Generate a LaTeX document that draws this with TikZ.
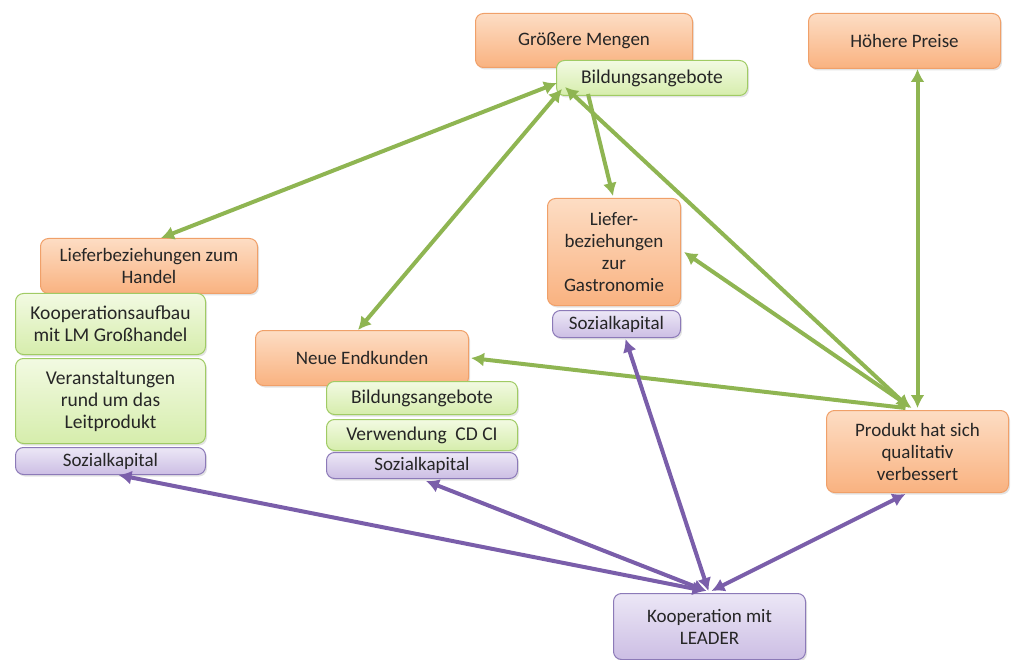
\documentclass[tikz,border=0pt]{standalone}
\usepackage{fontspec}
\setmainfont{Carlito}
\usetikzlibrary{arrows.meta,shadows,calc}

\definecolor{txt}{RGB}{38,38,38}
\definecolor{orTop}{RGB}{253,221,196}
\definecolor{orBot}{RGB}{249,178,128}
\definecolor{orLine}{RGB}{240,160,105}
\definecolor{grTop}{RGB}{242,250,226}
\definecolor{grBot}{RGB}{214,237,172}
\definecolor{grLine}{RGB}{160,203,100}
\definecolor{puTop}{RGB}{236,231,246}
\definecolor{puBot}{RGB}{204,190,228}
\definecolor{puLine}{RGB}{140,122,184}
\definecolor{grArrow}{RGB}{143,181,82}
\definecolor{puArrow}{RGB}{122,94,170}

\tikzset{
  box/.style={rounded corners=8pt, line width=1pt, inner sep=0pt,
    align=center, anchor=north west, text=txt,
    font=\fontsize{19}{22}\selectfont,
    drop shadow={shadow xshift=1.5pt, shadow yshift=-2pt, opacity=0.22}},
  obox/.style={box, draw=orLine, top color=orTop, bottom color=orBot},
  gbox/.style={box, draw=grLine, top color=grTop, bottom color=grBot,
    font=\fontsize{19.5}{22}\selectfont},
  pbox/.style={box, draw=puLine, top color=puTop, bottom color=puBot},
  garrow/.style={draw=grArrow, line width=4pt,
    arrows={-Latex[length=13pt,width=14pt]}},
  gboth/.style={garrow, arrows={Latex[length=13pt,width=14pt]-Latex[length=13pt,width=14pt]}},
  pboth/.style={draw=puArrow, line width=4pt,
    arrows={Latex[length=13pt,width=14pt]-Latex[length=13pt,width=14pt]}},
}

\begin{document}
\begin{tikzpicture}[x=1pt,y=-1pt]
\useasboundingbox (0,0) rectangle (1017,660);

% upper row
\node[obox, minimum width=217, minimum height=54] (mengen) at (475,13) {Größere Mengen};
\node[gbox, minimum width=191, minimum height=35] (bild1) at (556,60) {Bildungsangebote};
\node[obox, minimum width=192, minimum height=55] (preise) at (808,13) {Höhere Preise};

% left column
\node[obox, minimum width=217, minimum height=55] (handel) at (40,238) {Lieferbeziehungen zum\\Handel};
\node[gbox, minimum width=190, minimum height=61] (koop) at (15,293) {Kooperationsaufbau\\mit LM Großhandel};
\node[gbox, minimum width=190, minimum height=85] (veran) at (15,358) {Veranstaltungen\\rund um das\\Leitprodukt};
\node[pbox, minimum width=190, minimum height=27] (soz1) at (15,447) {Sozialkapital};

% middle column
\node[obox, minimum width=213, minimum height=55] (endk) at (255,330) {Neue Endkunden};
\node[gbox, minimum width=191, minimum height=33] (bild2) at (326,381) {Bildungsangebote};
\node[gbox, minimum width=191, minimum height=31] (cdci) at (326,419) {Verwendung~ CD CI};
\node[pbox, minimum width=191, minimum height=26] (soz2) at (326,452) {Sozialkapital};

% gastronomy
\node[obox, minimum width=133, minimum height=107] (gastro) at (547,198) {Liefer-\\beziehungen\\zur\\Gastronomie};
\node[pbox, minimum width=128, minimum height=27] (soz3) at (552,310) {Sozialkapital};

% right
\node[obox, minimum width=182, minimum height=82] (produkt) at (826,410) {Produkt hat sich\\qualitativ\\verbessert};

% bottom
\node[pbox, minimum width=192, minimum height=66] (leader) at (613,593) {Kooperation mit\\LEADER};

% green connectors
\draw[gboth] ($(bild1.south west)+(1,-13)$) -- ($(handel.north)+(12,0)$);
\draw[gboth] ($(bild1.south west)+(6,-7)$) -- ($(endk.north)+(-4,0)$);
\draw[garrow] ($(bild1.south west)+(32,-2)$) -- ($(gastro.north)+(-1,-2)$);
\draw[gboth] ($(produkt.north)+(-8,-2)$) -- ($(bild1.south west)+(9,-9)$);
\draw[gboth] ($(produkt.north)+(-6,-2)$) -- ($(gastro.east)+(3,0)$);
\draw[garrow] ($(produkt.north)+(-12,-2)$) -- ($(endk.east)+(2,0)$);
\draw[gboth] ($(produkt.north)+(0,-2)$) -- ($(preise.south)+(13,0)$);

% purple connectors
\draw[pboth] ($(leader.north)+(-4,-2)$) -- ($(soz1.south)+(8,0)$);
\draw[pboth] ($(leader.north)+(-3,-2)$) -- ($(soz2.south)+(4,2)$);
\draw[pboth] ($(leader.north)+(-1,-2)$) -- ($(soz3.south)+(9,1)$);
\draw[pboth] ($(leader.north)+(2,-2)$) -- ($(produkt.south)+(-12,1)$);
\end{tikzpicture}
\end{document}
